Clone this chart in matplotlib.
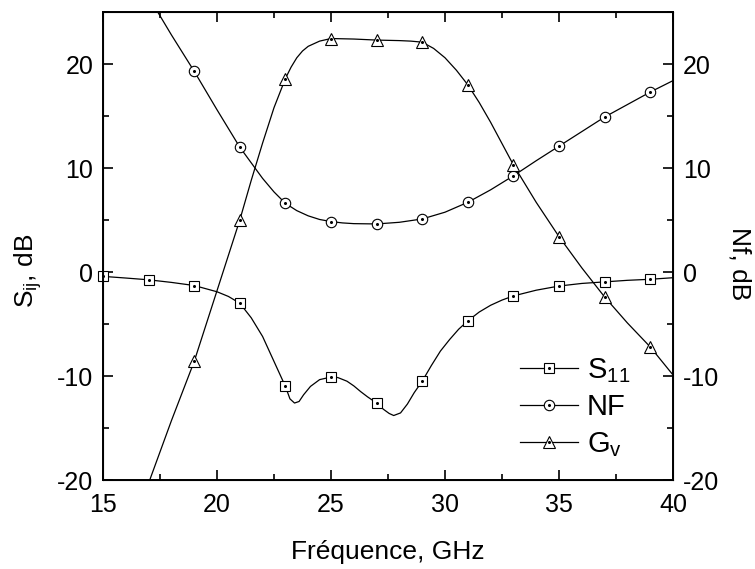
import matplotlib
matplotlib.use('Agg')
import matplotlib.pyplot as plt
from matplotlib.ticker import MultipleLocator

plt.rcParams['font.family'] = ['Liberation Sans', 'DejaVu Sans']
plt.rcParams['mathtext.default'] = 'regular'
plt.rcParams['axes.unicode_minus'] = False  # hyphen as minus sign, like the original

# S11 curve (GHz, dB)
s11_x = [15, 16, 17, 18, 19, 20, 20.5, 21, 21.5, 22, 22.5, 23, 23.1, 23.2, 23.4, 23.6, 23.8,
         24.1, 24.5, 25, 25.3, 25.7, 26, 26.3, 26.6, 27, 27.3, 27.55, 27.75, 28.05, 28.35,
         28.65, 29, 29.4, 29.8, 30.2, 30.6, 31, 31.5, 32, 32.5, 33, 34, 35, 36, 37, 38, 39, 40]
s11_y = [-0.42, -0.58, -0.75, -1.0, -1.3, -1.9, -2.35, -3.0, -4.4, -6.2, -8.6, -11.0, -11.6,
         -12.2, -12.6, -12.45, -11.8, -11.0, -10.35, -10.1, -10.15, -10.5, -10.95, -11.5,
         -12.0, -12.6, -13.2, -13.6, -13.8, -13.55, -12.7, -11.6, -10.5, -9.0, -7.6, -6.5,
         -5.5, -4.7, -3.85, -3.2, -2.7, -2.3, -1.75, -1.35, -1.1, -0.95, -0.8, -0.7, -0.55]
s11_mx = [15, 17, 19, 21, 23, 25, 27, 29, 31, 33, 35, 37, 39]
s11_my = [-0.42, -0.75, -1.3, -3.0, -11.0, -10.1, -12.6, -10.5, -4.7, -2.3, -1.35, -0.95, -0.7]

# NF curve
nf_x = [17.4, 18, 19, 20, 21, 21.5, 22, 22.5, 23, 23.5, 24, 24.5, 25, 25.5, 26, 27, 28, 29,
        30, 31, 32, 33, 34, 35, 36, 37, 38, 39, 40]
nf_y = [25.0, 22.8, 19.3, 15.6, 12.0, 10.5, 9.0, 7.7, 6.6, 5.9, 5.4, 5.05, 4.85, 4.72, 4.65,
        4.62, 4.78, 5.1, 5.75, 6.7, 7.9, 9.25, 10.7, 12.1, 13.5, 14.9, 16.1, 17.3, 18.4]
nf_mx = [19, 21, 23, 25, 27, 29, 31, 33, 35, 37, 39]
nf_my = [19.3, 12.0, 6.6, 4.85, 4.62, 5.1, 6.7, 9.25, 12.1, 14.9, 17.3]

# Gv curve
gv_x = [17.05, 18, 19, 20, 21, 21.5, 22, 22.5, 23, 23.25, 23.5, 23.75, 24, 24.5, 25, 26, 27,
        28, 28.5, 29, 29.5, 30, 30.5, 31, 31.5, 32, 33, 34, 35, 36, 37, 38, 39, 40]
gv_y = [-20.0, -14.3, -8.6, -1.8, 5.0, 8.8, 12.4, 15.8, 18.6, 19.7, 20.6, 21.25, 21.7, 22.2,
        22.45, 22.4, 22.3, 22.25, 22.2, 22.1, 21.5, 20.6, 19.4, 18.0, 16.3, 14.4, 10.3, 6.7,
        3.4, 0.4, -2.4, -4.9, -7.2, -9.9]
gv_mx = [19, 21, 23, 25, 27, 29, 31, 33, 35, 37, 39]
gv_my = [-8.6, 5.0, 18.6, 22.45, 22.3, 22.1, 18.0, 10.3, 3.4, -2.4, -7.2]

labels = ['S$_{11}$', 'NF', 'G$_{v}$']

fig = plt.figure(figsize=(7.55, 5.69), dpi=100)
ax = fig.add_axes([103 / 755, 1 - 480 / 569, 570 / 755, 468 / 569])

handles = []
for cx, cy, mx, my, mk, ms in [(s11_x, s11_y, s11_mx, s11_my, 's', 6.5),
                               (nf_x, nf_y, nf_mx, nf_my, 'o', 7.5),
                               (gv_x, gv_y, gv_mx, gv_my, '^', 8.5)]:
    ax.plot(cx, cy, '-', color='black', lw=0.9)
    ax.plot(mx, my, linestyle='None', marker=mk, ms=ms, mfc='white', mec='black',
            mew=0.8, clip_on=False)
    dot, = ax.plot(mx, my, linestyle='None', marker='o', ms=1.2, color='black',
                   clip_on=False)
    # legend handle: line + open marker + center dot
    h, = ax.plot([], [], '-', color='black', lw=0.9, marker=mk, ms=ms,
                 mfc='white', mec='black', mew=0.8)
    handles.append((h, dot))

ax.set_xlim(15, 40)
ax.set_ylim(-20, 25)
ax.xaxis.set_major_locator(MultipleLocator(5))
ax.xaxis.set_minor_locator(MultipleLocator(2.5))
ax.yaxis.set_major_locator(MultipleLocator(10))
ax.yaxis.set_minor_locator(MultipleLocator(5))
ax.tick_params(which='both', direction='in', top=True, labelsize=18, width=1.2)
ax.tick_params(which='major', length=7)
ax.tick_params(which='minor', length=4)
ax.tick_params(axis='x', pad=9)
ax.tick_params(axis='y', pad=7)
for s in ax.spines.values():
    s.set_linewidth(1.4)

ax2 = ax.twinx()
ax2.set_ylim(-20, 25)
ax2.yaxis.set_major_locator(MultipleLocator(10))
ax2.yaxis.set_minor_locator(MultipleLocator(5))
ax2.tick_params(which='both', direction='in', labelsize=18, width=1.2, pad=7)
ax2.tick_params(which='major', length=7)
ax2.tick_params(which='minor', length=4)

ax.set_xlabel('Fréquence, GHz', fontsize=19)
ax.xaxis.set_label_coords(0.5, -0.128)
ax.set_ylabel('S$_{ij}$, dB', fontsize=19)
ax.yaxis.set_label_coords(-0.103, 0.446)
ax2.set_ylabel('Nf, dB', fontsize=19, rotation=270)
ax2.yaxis.set_label_coords(1.138, 0.463)

ax.legend(handles, labels, loc='lower right', bbox_to_anchor=(0.945, 0.02),
          frameon=False, fontsize=21, handlelength=2.0, handletextpad=0.3,
          labelspacing=0.3, borderaxespad=0)

plt.savefig('out.png', dpi=100)
